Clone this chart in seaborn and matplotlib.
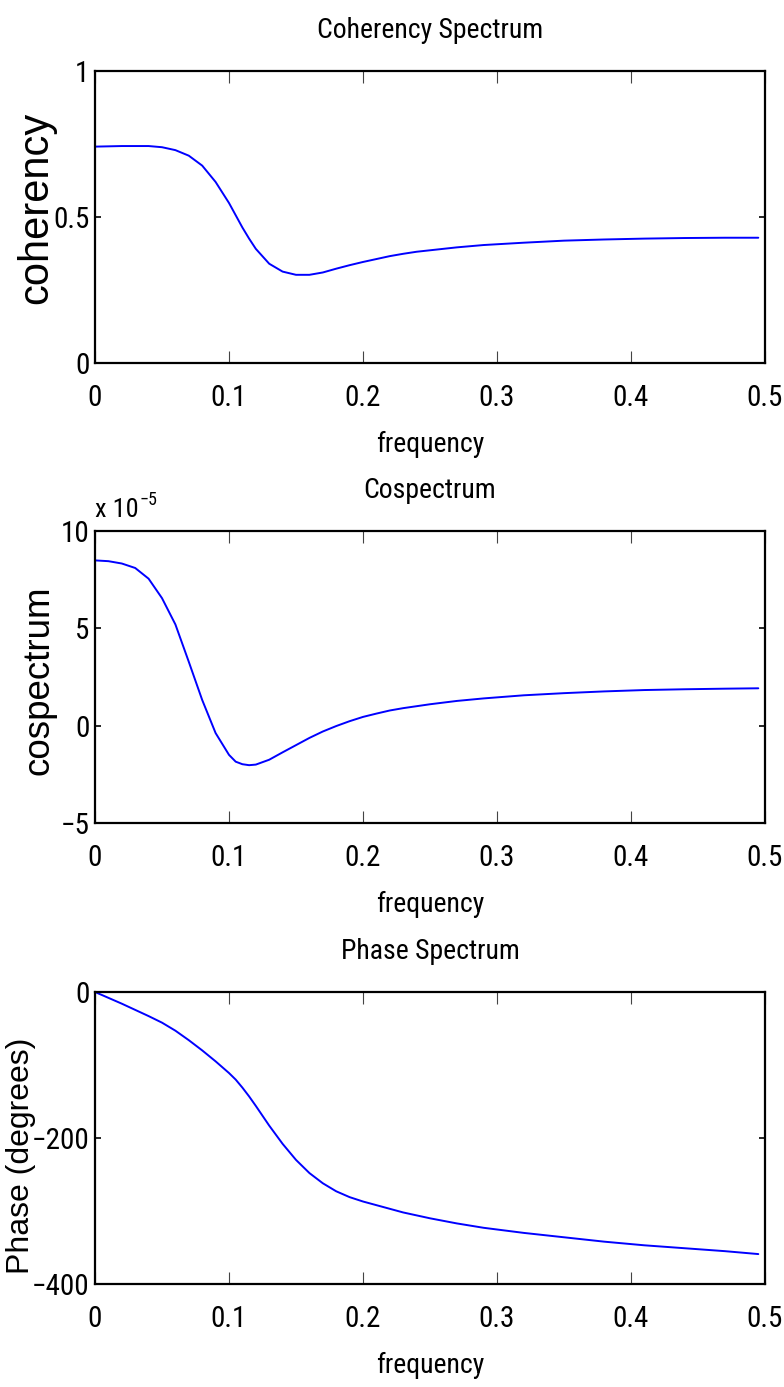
import numpy as np
import pandas as pd
import matplotlib
matplotlib.use("Agg")
import matplotlib.pyplot as plt
import seaborn as sns

# ---- data ----
freq = [0.00, 0.01, 0.02, 0.03, 0.04, 0.05, 0.06, 0.07, 0.08, 0.09, 0.10, 0.105,
        0.11, 0.115, 0.12, 0.13, 0.14, 0.15, 0.16, 0.17, 0.18, 0.19, 0.20, 0.21,
        0.22, 0.23, 0.24, 0.25, 0.27, 0.29, 0.32, 0.35, 0.38, 0.41, 0.44, 0.47,
        0.495]
coherency = [0.741, 0.742, 0.743, 0.743, 0.743, 0.739, 0.729, 0.710, 0.676, 0.620,
             0.548, 0.506, 0.464, 0.426, 0.391, 0.340, 0.313, 0.302, 0.302, 0.310,
             0.323, 0.335, 0.346, 0.356, 0.366, 0.374, 0.381, 0.386, 0.396, 0.404,
             0.412, 0.419, 0.423, 0.426, 0.428, 0.429, 0.429]
cospectrum = [8.49e-5, 8.45e-5, 8.33e-5, 8.10e-5, 7.55e-5, 6.55e-5, 5.20e-5,
              3.28e-5, 1.32e-5, -0.38e-5, -1.50e-5, -1.85e-5, -1.98e-5, -2.03e-5,
              -2.00e-5, -1.75e-5, -1.37e-5, -1.00e-5, -0.63e-5, -0.30e-5, -0.02e-5,
              0.23e-5, 0.45e-5, 0.62e-5, 0.78e-5, 0.90e-5, 1.00e-5, 1.10e-5,
              1.27e-5, 1.40e-5, 1.56e-5, 1.67e-5, 1.76e-5, 1.83e-5, 1.87e-5,
              1.90e-5, 1.92e-5]
phase = [0, -8, -16, -24.5, -33, -42, -53, -66, -80, -95, -111, -120, -131, -143,
         -156, -183, -208, -230, -248, -262, -273, -281, -287, -292, -297, -302,
         -306, -310, -317, -323, -330, -336, -342, -347, -351, -355, -359]

xticks = [0, 0.1, 0.2, 0.3, 0.4, 0.5]
xticklabels = ["0", "0.1", "0.2", "0.3", "0.4", "0.5"]
coh_ticks = [0, 0.5, 1]
coh_ticklabels = ["0", "0.5", "1"]
cos_ticks = [-5e-5, 0, 5e-5, 10e-5]
cos_ticklabels = ["\u22125", "0", "5", "10"]
ph_ticks = [-400, -200, 0]
ph_ticklabels = ["\u2212400", "\u2212200", "0"]

titles = ["Coherency Spectrum", "Cospectrum", "Phase Spectrum"]
ylabels = ["coherency", "cospectrum", "Phase (degrees)"]

df = pd.DataFrame({"frequency": freq, "coherency": coherency,
                   "cospectrum": cospectrum, "phase": phase})

sns.set_theme(style="white")
wide = ["Liberation Sans", "DejaVu Sans"]
narrow = ["Roboto Condensed", "Noto Sans", "Liberation Sans", "DejaVu Sans"]
plt.rcParams["font.family"] = narrow
plt.rcParams["font.stretch"] = "condensed"


def nfont(size):
    return dict(family=narrow, stretch="condensed", size=size)


W, H = 784, 1387
fig = plt.figure(figsize=(W / 100, H / 100), dpi=100)

left = 95 / W
width = (765 - 95) / W
tops = [71, 531, 992]
axh = 292

cols = ["coherency", "cospectrum", "phase"]
ylims = [(0, 1), (-5e-5, 10e-5), (-400, 0)]
yt = [coh_ticks, cos_ticks, ph_ticks]
ytl = [coh_ticklabels, cos_ticklabels, ph_ticklabels]
ylab_x = [-0.058, -0.058, -0.088]
ylab_y = [0.53, 0.49, 0.44]
ylab_size = [30, 26.5, 23]

for i in range(3):
    bottom = 1 - (tops[i] + axh) / H
    ax = fig.add_axes([left, bottom, width, axh / H])
    sns.lineplot(data=df, x="frequency", y=cols[i], ax=ax, color="#0000ff",
                 linewidth=1.4)
    ax.set_xlim(0, 0.5)
    ax.set_ylim(*ylims[i])
    ax.set_xticks(xticks)
    ax.set_xticklabels(xticklabels, fontdict=nfont(21))
    ax.set_yticks(yt[i])
    ax.set_yticklabels(ytl[i], fontdict=nfont(21))
    for s in ax.spines.values():
        s.set_visible(True)
        s.set_color("black")
        s.set_linewidth(1.6)
    ax.tick_params(axis="x", direction="in", length=8.5, width=0.8, color="#444444",
                   top=True, bottom=True, pad=15, labelcolor="black")
    ax.tick_params(axis="y", direction="in", length=4.5, width=1.2, color="black",
                   left=True, right=True, pad=4, labelcolor="black")
    ax.set_title(titles[i], fontdict=nfont(20), pad=24, color="black")
    ax.set_xlabel("frequency", fontdict=nfont(20), labelpad=14, color="black")
    ax.set_ylabel(ylabels[i], fontsize=ylab_size[i], family=wide,
                  stretch="normal", color="black")
    ax.yaxis.set_label_coords(ylab_x[i], ylab_y[i])
    ax.grid(False)
    if i == 1:
        ax.text(0.0, 1.03, "x 10", transform=ax.transAxes, fontdict=nfont(19),
                ha="left", va="bottom", color="black")
        ax.text(0.066, 1.075, "\u22125", transform=ax.transAxes,
                fontdict=nfont(13), ha="left", va="bottom", color="black")

fig.savefig("out.png", dpi=100, facecolor="white")
